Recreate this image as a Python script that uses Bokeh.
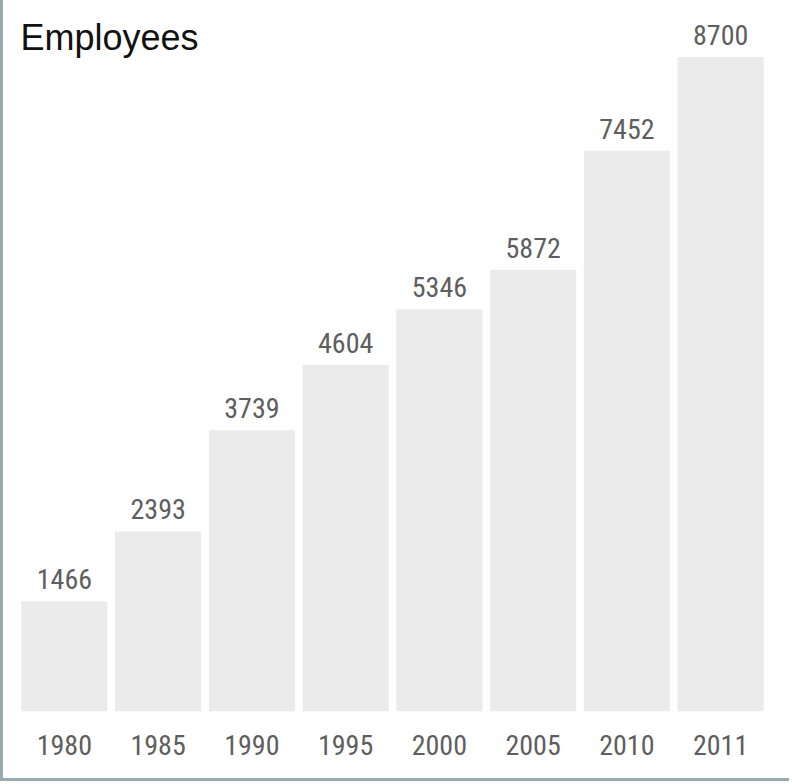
from bokeh.plotting import figure
from bokeh.models import FactorRange, Range1d, Label, ColumnDataSource
from bokeh.core.properties import value
from bokeh.embed import file_html
from bokeh.resources import INLINE

years = ["1980", "1985", "1990", "1995", "2000", "2005", "2010", "2011"]
employees = [1466, 2393, 3739, 4604, 5346, 5872, 7452, 8700]
title_text = "Employees"

NARROW = "'Roboto Condensed', 'DejaVu Sans Condensed', sans-serif"

src = ColumnDataSource(dict(year=years, n=employees, lab=[str(v) for v in employees]))

p = figure(width=789, height=781, output_backend="svg", toolbar_location=None,
           x_range=FactorRange(factors=years, range_padding=0),
           y_range=Range1d(0, 9450),
           min_border_left=14, min_border_right=25, min_border_top=0, min_border_bottom=70)
p.styles = {"border-left": "3px solid #97aab0", "border-bottom": "3px solid #97aab0"}
p.background_fill_color = "white"
p.border_fill_color = "white"
p.outline_line_color = None
p.grid.visible = False
p.yaxis.visible = False

p.vbar(x="year", top="n", width=0.918, source=src, fill_color="#ebebeb", line_color=None)
p.text(x="year", y="n", text="lab", source=src, text_align="center", text_baseline="alphabetic",
       y_offset=-22, text_font=value(NARROW), text_font_size="28px", text_color="#5e5e5e")

ax = p.xaxis[0]
ax.axis_line_color = None
ax.major_tick_line_color = None
ax.minor_tick_line_color = None
ax.major_tick_out = 0
ax.major_tick_in = 0
ax.major_label_standoff = 23
ax.major_label_text_font = NARROW
ax.major_label_text_font_size = "28px"
ax.major_label_text_color = "#5e5e5e"

t = Label(x=3, y=674, x_units="screen", y_units="screen", text=title_text,
          text_font="Liberation Sans", text_font_size="36px", text_color="#111111",
          text_baseline="alphabetic")
p.add_layout(t)

open("out.html", "w").write(file_html(p, INLINE))
